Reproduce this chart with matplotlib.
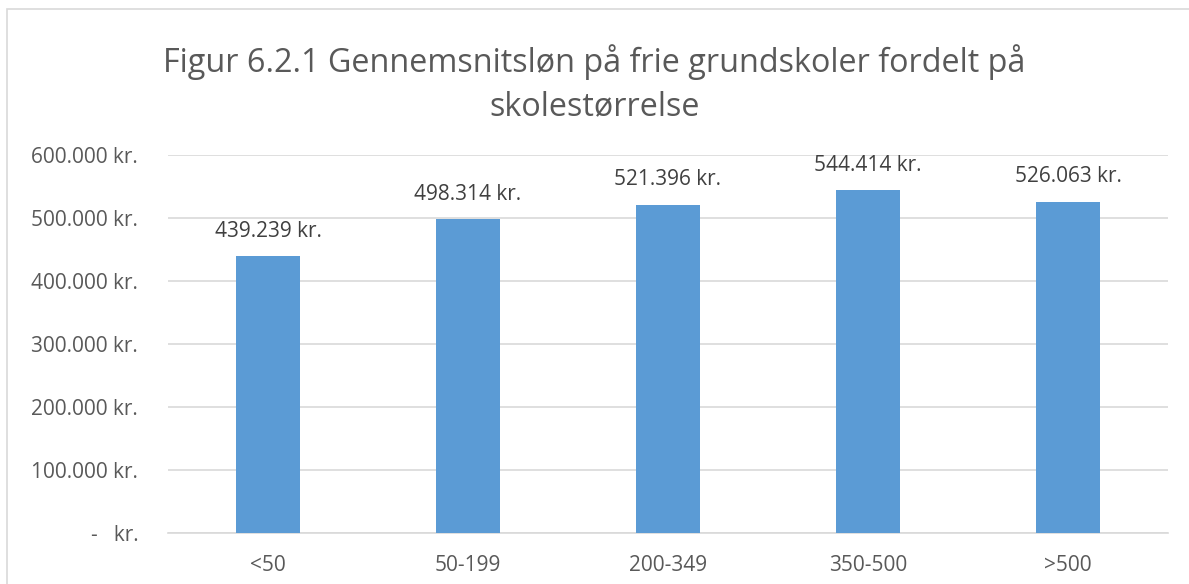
import matplotlib
matplotlib.use("Agg")
import matplotlib.pyplot as plt
from matplotlib.patches import Rectangle

categories = ["<50", "50-199", "200-349", "350-500", ">500"]
values = [439239, 498314, 521396, 544414, 526063]
yticks = [0, 100000, 200000, 300000, 400000, 500000, 600000]
title_lines = ["Figur 6.2.1 Gennemsnitsløn på frie grundskoler fordelt på", "skolestørrelse"]

def fmt_kr(v):
    if v == 0:
        return "-   kr."
    return f"{v:,.0f}".replace(",", ".") + " kr."

plt.rcParams['font.family'] = ['Open Sans', 'DejaVu Sans']

W, H = 1189, 584
fig = plt.figure(figsize=(W / 100, H / 100), dpi=100)
fig.patch.set_facecolor("white")

# chart border
fig.patches.append(Rectangle((7 / W, -0.1), 1.2, 1 - 9 / H + 0.1, transform=fig.transFigure,
                             fill=False, edgecolor="#D9D9D9", linewidth=1.2))

ax = fig.add_axes([168 / W, 1 - 533 / H, 1000 / W, (533 - 155) / H])
x = range(len(categories))
ax.bar(x, values, width=0.32, color="#5B9BD5", zorder=3)
ax.set_xlim(-0.5, len(categories) - 0.5)
ax.set_ylim(0, 600000)
ax.set_yticks(yticks)
ax.set_yticklabels([fmt_kr(v) for v in yticks])
ax.set_xticks(list(x))
ax.set_xticklabels(categories)
ax.grid(axis="y", color="#D9D9D9", linewidth=1.2, zorder=0)
for s in ["top", "right", "left"]:
    ax.spines[s].set_visible(False)
ax.spines["bottom"].set_color("#D9D9D9")
ax.spines["bottom"].set_linewidth(1.2)
ax.tick_params(axis="both", length=0, labelsize=15, colors="#595959")
ax.tick_params(axis="y", pad=21.5)
ax.tick_params(axis="x", pad=16)

for xi, v in zip(x, values):
    ax.annotate(fmt_kr(v), (xi, v), xytext=(0, 18), textcoords="offset points",
                ha="center", va="center", fontsize=15, color="#404040")

fig.text(0.5, 1 - 72 / H, title_lines[0], ha="center", va="baseline", fontsize=23.3,
         color="#595959")
fig.text(0.5, 1 - 115 / H, title_lines[1], ha="center", va="baseline", fontsize=23.3,
         color="#595959")

fig.savefig("out.png", dpi=100, facecolor="white")
